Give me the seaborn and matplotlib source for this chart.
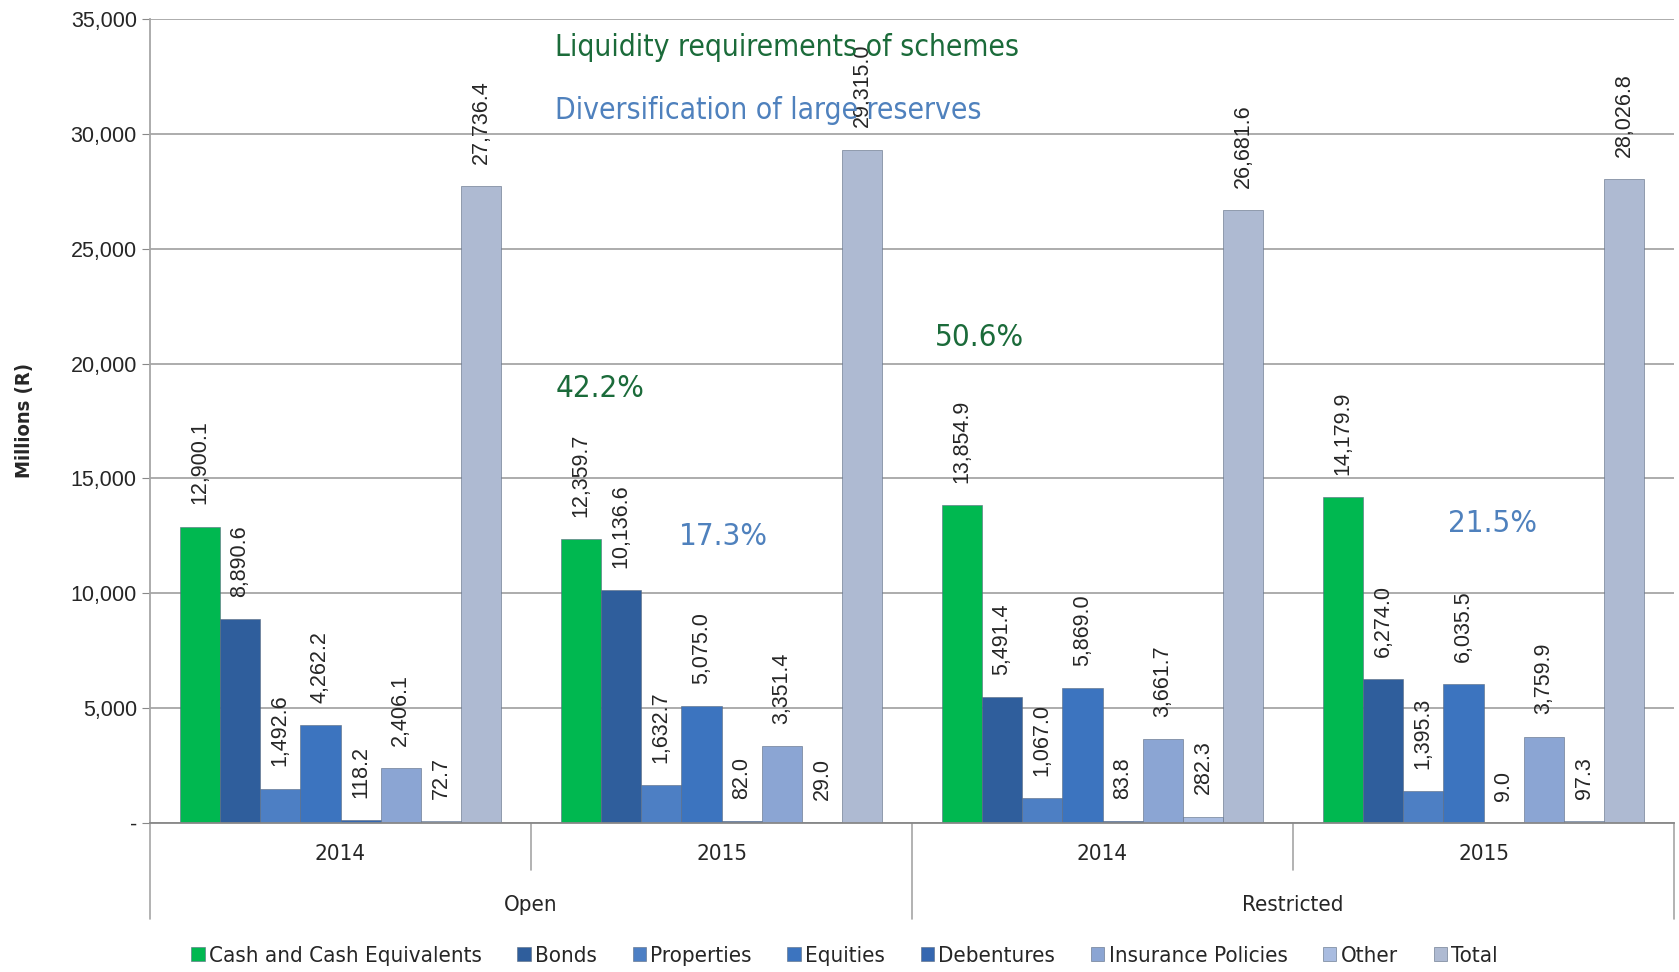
import pandas as pd
import numpy as np
import matplotlib.pyplot as plt
import seaborn as sns
from matplotlib.ticker import FuncFormatter

sns.set_style('white')
plt.rcParams['font.family'] = ['Liberation Sans', 'DejaVu Sans']
narrow = dict(family='DejaVu Sans', stretch='condensed')

# data
assets = ['Cash and Cash Equivalents', 'Bonds', 'Properties', 'Equities',
          'Debentures', 'Insurance Policies', 'Other', 'Total']
periods = ['Open 2014', 'Open 2015', 'Restricted 2014', 'Restricted 2015']
years = ['2014', '2015', '2014', '2015']
groups = ['Open', 'Restricted']

open_2014 = [12900.1, 8890.6, 1492.6, 4262.2, 118.2, 2406.1, 72.7, 27736.4]
open_2015 = [12359.7, 10136.6, 1632.7, 5075.0, 82.0, 3351.4, 29.0, 29315.0]
restr_2014 = [13854.9, 5491.4, 1067.0, 5869.0, 83.8, 3661.7, 282.3, 26681.6]
restr_2015 = [14179.9, 6274.0, 1395.3, 6035.5, 9.0, 3759.9, 97.3, 28026.8]

colors = ['#00B850', '#2F5E9C', '#4D7FC4', '#3C74BF', '#3567B0',
          '#8BA5D3', '#A9BCE0', '#AEBAD2']

rows = []
for p, vals in zip(periods, [open_2014, open_2015, restr_2014, restr_2015]):
    for a, v in zip(assets, vals):
        rows.append({'period': p, 'asset': a, 'value': v})
df = pd.DataFrame(rows)

fig = plt.figure(figsize=(16.79, 9.72), dpi=100)
ax = fig.add_axes([150/1679, 1-823/972, 1524/1679, 804/972])

sns.barplot(data=df, x='period', y='value', hue='asset', order=periods,
            hue_order=assets, palette=colors, saturation=1, width=0.845,
            errorbar=None, ax=ax, legend=True, edgecolor='#5a6a80', linewidth=0.4)

for c in ax.containers:
    vals = [b.get_height() for b in c]
    ax.bar_label(c, labels=[f'{v:,.1f}' for v in vals], rotation=90,
                 padding=16, fontsize=15.5)

ax.set_xlim(-0.5, 3.5)
ax.set_ylim(0, 35000)
ax.set_yticks(np.arange(0, 35001, 5000))
ax.yaxis.set_major_formatter(FuncFormatter(lambda v, p: '-' if v == 0 else f'{v:,.0f}'))
ax.tick_params(axis='y', labelsize=15.5, length=6, color='#888888', direction='out', left=True)
ax.yaxis.grid(True, color='#A6A6A6', lw=1.3)
ax.set_axisbelow(True)

ax.set_xticks(range(4))
ax.set_xticklabels([])
ax.tick_params(axis='x', length=0)
ax.set_xlabel('')
ax.set_ylabel('Millions (R)', fontsize=14.5, fontweight='bold', labelpad=26, **narrow)

for s in ['top', 'right']:
    ax.spines[s].set_visible(False)
ax.spines['bottom'].set_color('#888888')
ax.spines['bottom'].set_linewidth(1.3)
ax.spines['left'].set_color('#A6A6A6')
ax.spines['left'].set_linewidth(1.3)
ax.spines['left'].set_bounds(0, 35000)

# multi-level category axis
tr = ax.transAxes
for x in [0.25, 0.75]:
    ax.plot([x, x], [0, -0.058], color='#A6A6A6', lw=1.2, transform=tr, clip_on=False)
for x in [0.0, 0.5, 1.0]:
    ax.plot([x, x], [0, -0.119], color='#A6A6A6', lw=1.2, transform=tr, clip_on=False)
for i, y in enumerate(years):
    ax.text(0.125 + 0.25*i, -0.0386, y, transform=tr, ha='center', va='center',
            fontsize=16, **narrow)
for i, g in enumerate(groups):
    ax.text(0.25 + 0.5*i, -0.102, g, transform=tr, ha='center', va='center',
            fontsize=16, **narrow)

# notes
green = '#1B6B3A'
blue = '#4F81BD'
ax.text(0.266, 0.965, 'Liquidity requirements of schemes', transform=tr, color=green,
        fontsize=21.5, va='center', **narrow)
ax.text(0.266, 0.886, 'Diversification of large reserves', transform=tr, color=blue,
        fontsize=21.5, va='center', **narrow)
ax.text(0.266, 0.541, '42.2%', transform=tr, color=green, fontsize=22.5, va='center', **narrow)
ax.text(0.347, 0.356, '17.3%', transform=tr, color=blue, fontsize=22.5, va='center', **narrow)
ax.text(0.515, 0.604, '50.6%', transform=tr, color=green, fontsize=22.5, va='center', **narrow)
ax.text(0.852, 0.372, '21.5%', transform=tr, color=blue, fontsize=22.5, va='center', **narrow)

h, l = ax.get_legend_handles_labels()
ax.legend_.remove()
fig.legend(h, l, loc='center', bbox_to_anchor=(0.503, 1-956/972), ncol=8, frameon=False,
           handlelength=0.6, handleheight=0.6, handletextpad=0.2, columnspacing=1.6,
           prop=dict(size=16, **narrow))

fig.savefig('out.png', dpi=100)
